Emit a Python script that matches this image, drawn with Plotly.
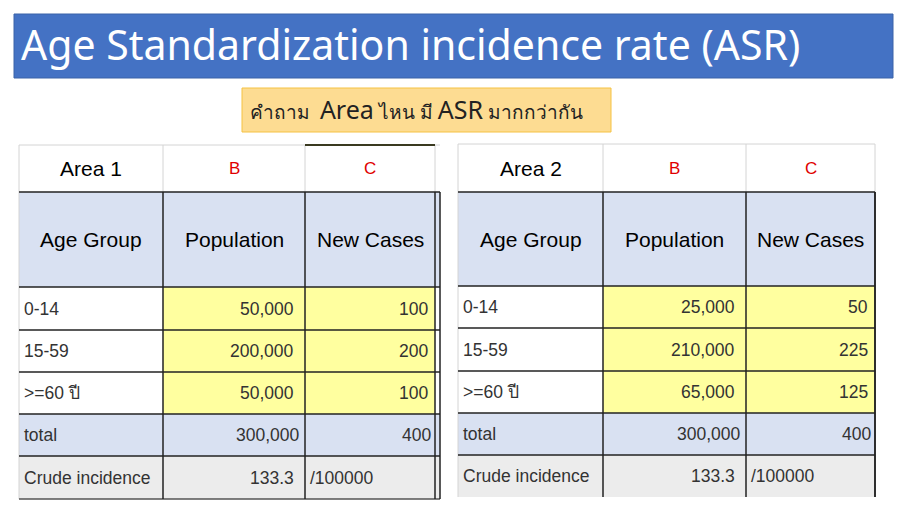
import plotly.graph_objects as go

# ---- data ----
AREAS        = ['Area 1', 'Area 2']
COL_LETTERS  = ['B', 'C']
HEADERS      = ['Age Group', 'Population', 'New Cases']
AGE_GROUPS   = ['0-14', '15-59', '>=60 ปี']
POPULATION   = [[50000, 200000, 50000], [25000, 210000, 65000]]
NEW_CASES    = [[100, 200, 100], [50, 225, 125]]
TOTAL_POP    = [300000, 300000]
TOTAL_CASES  = [400, 400]
CRUDE        = [133.3, 133.3]
CRUDE_UNIT   = '/100000'
TITLE        = 'Age Standardization incidence rate (ASR)'
QUESTION     = ['คำถาม', 'Area', 'ไหน มี', 'ASR', 'มากกว่ากัน']

# ---- layout geometry (pixels) ----
XCOLS = [[19, 163, 305, 435, 440], [458, 603, 746, 875, 875]]
YROWS = [[145, 192, 287, 330, 372, 414, 456, 499],
         [144, 192, 286, 328, 371, 413, 455, 497]]

BLUE_HDR = '#d9e1f2'
YELLOW   = '#ffff9f'
GREY     = '#ececec'
DARK     = '#222222'
LIGHT    = '#d4d4d4'
TXT      = '#333333'
TFONT    = 'Liberation Sans, Arial, sans-serif'
BODY     = 17.5

shapes, annos = [], []


def rect(x0, x1, y0, y1, fill, line=None, width=0):
    shapes.append(dict(type='rect', xref='x', yref='y', x0=x0, x1=x1, y0=y0, y1=y1,
                       fillcolor=fill, layer='below',
                       line=dict(color=line or fill, width=width)))


def seg(x0, y0, x1, y1, color, width=1.5):
    shapes.append(dict(type='line', xref='x', yref='y', x0=x0, y0=y0, x1=x1, y1=y1,
                       line=dict(color=color, width=width)))


def text(x, y, s, anchor='left', size=BODY, color=TXT, family=TFONT):
    annos.append(dict(xref='x', yref='y', x=x, y=y, text=s, showarrow=False,
                      xanchor=anchor, yanchor='middle',
                      font=dict(family=family, size=size, color=color)))


def fmt(v):
    return f'{v:,}'


# title bar
rect(14, 893, 14, 78, '#4472c4', '#3a62a8', 1)
text(19, 44, TITLE, size=41, color='white', family='Noto Sans, sans-serif')

# question box
rect(242, 611, 88, 132, '#fddc92', '#f5c242', 1)
q = (f'<span style="font-size:19px">{QUESTION[0]}&nbsp;&nbsp;</span>'
     f'<span style="font-size:25px">{QUESTION[1]}</span> '
     f'<span style="font-size:19px">{QUESTION[2]}</span> '
     f'<span style="font-size:25px">{QUESTION[3]}</span> '
     f'<span style="font-size:19px">{QUESTION[4]}</span>')
text(248, 109, q, size=19, color='#222222', family='Noto Sans, sans-serif')

for t in range(2):
    xs, ys = XCOLS[t], YROWS[t]
    left, right = xs[0], xs[-1]
    mid = lambda i: (ys[i] + ys[i + 1]) / 2

    # fills
    rect(left, right, ys[0], ys[1], 'white')
    rect(left, right, ys[1], ys[2], BLUE_HDR)
    rect(left, xs[1], ys[2], ys[5], 'white')
    rect(xs[1], xs[3], ys[2], ys[5], YELLOW)
    rect(left, right, ys[5], ys[6], BLUE_HDR)
    rect(left, right, ys[6], ys[7], GREY)

    # light grid on the top row
    seg(left, ys[0], right, ys[0], LIGHT, 1)
    for x in xs[:4]:
        seg(x, ys[0], x, ys[1], LIGHT, 1)
    seg(left, ys[1], left, ys[7], LIGHT, 1)
    # dark grid for the body
    for y in ys[1:7]:
        seg(left, y, right, y, DARK, 1.5)
    if t == 0:
        seg(left, ys[7], right, ys[7], '#555555', 1.5)
        seg(xs[2], ys[0], xs[3], ys[0], '#3a3a20', 2)
    for x in xs[1:]:
        seg(x, ys[1], x, ys[7], DARK, 1.5)

    # top row
    text((xs[0] + xs[1]) / 2, mid(0), AREAS[t], anchor='center', size=21, color='black')
    for j, letter in enumerate(COL_LETTERS):
        text((xs[j + 1] + xs[j + 2]) / 2, mid(0), letter, anchor='center', size=17,
             color='#e00000')
    # header row
    for j, h in enumerate(HEADERS):
        text((xs[j] + xs[j + 1]) / 2, mid(1), h, anchor='center', size=21, color='black')
    # age rows
    for i, g in enumerate(AGE_GROUPS):
        text(left + 3, mid(2 + i), g)
        text(xs[2] - 9, mid(2 + i), fmt(POPULATION[t][i]), anchor='right')
        text(xs[3] - 5, mid(2 + i), fmt(NEW_CASES[t][i]), anchor='right')
    # total
    text(left + 3, mid(5), 'total')
    text(xs[2] - 3, mid(5), fmt(TOTAL_POP[t]), anchor='right')
    text(xs[3] - 2, mid(5), fmt(TOTAL_CASES[t]), anchor='right')
    # crude incidence
    text(left + 3, mid(6), 'Crude incidence')
    text(xs[2] - 9, mid(6), f'{CRUDE[t]:.1f}', anchor='right')
    text(xs[2] + 3, mid(6), CRUDE_UNIT)

fig = go.Figure()
fig.update_layout(
    width=900, height=518,
    margin=dict(l=0, r=0, t=0, b=0),
    paper_bgcolor='white', plot_bgcolor='white',
    xaxis=dict(range=[0, 900], visible=False, fixedrange=True),
    yaxis=dict(range=[518, 0], visible=False, fixedrange=True),
    shapes=shapes, annotations=annos, showlegend=False,
)
fig.write_html('out.html', config={'displayModeBar': False},
               post_script="document.body.style.margin='0';"
                           "document.body.style.overflow='hidden';")
